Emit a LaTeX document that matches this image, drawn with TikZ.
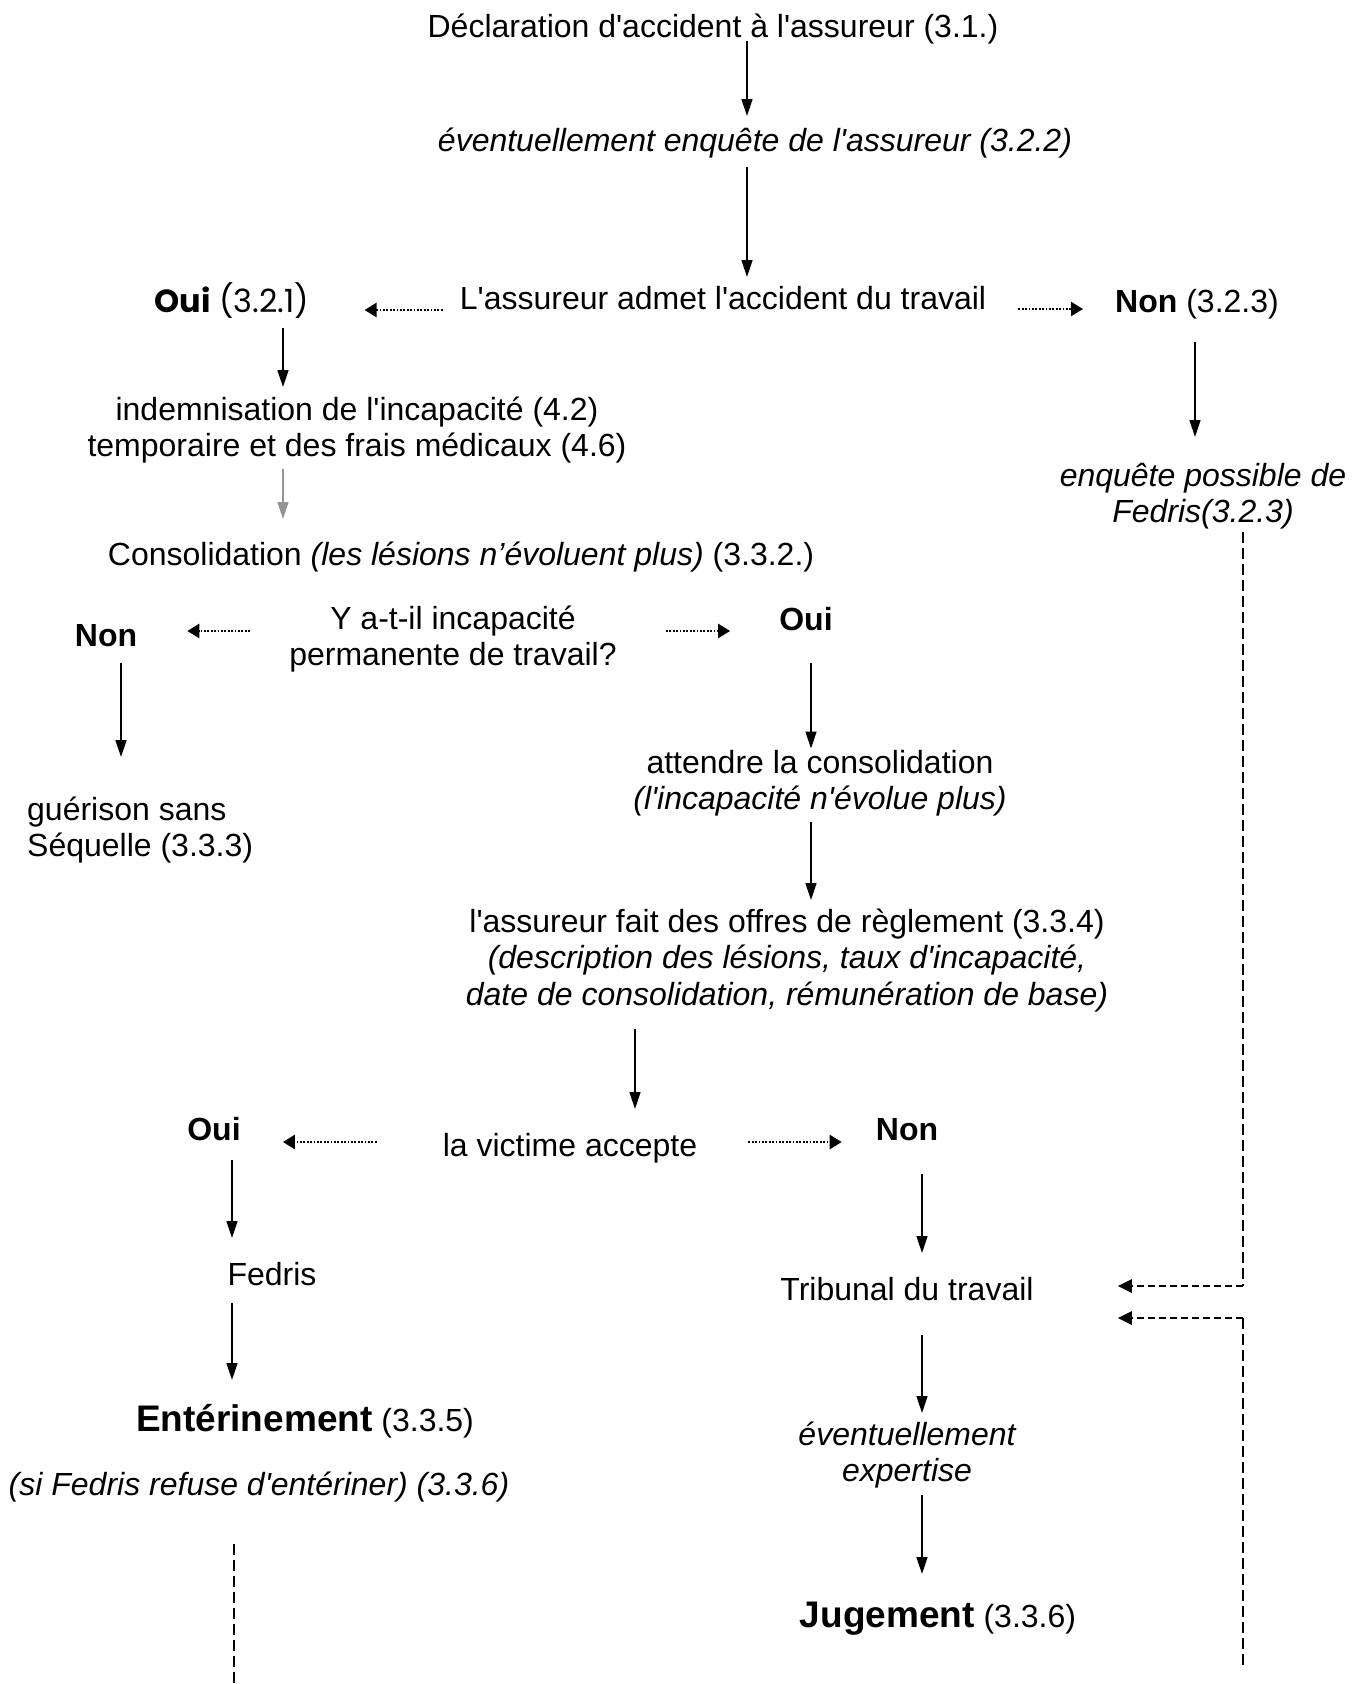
\documentclass[tikz,border=0pt]{standalone}
\usepackage{fontspec}
\setmainfont{Liberation Sans}
\newfontfamily\gothic{Poppins}
\usetikzlibrary{arrows.meta,calc}
\newcommand\ap{\textquotesingle}
\begin{document}
\begin{tikzpicture}[x=1pt,y=-1pt,
  txt/.style={inner sep=0pt, anchor=base, align=center, font=\fontsize{32}{36.5}\selectfont},
  itxt/.style={txt, font=\fontsize{32}{36.5}\selectfont\itshape},
  gtxt/.style={txt, font=\gothic\fontsize{32}{36.5}\selectfont},
  arr/.style={line width=1.6pt, -{Triangle[length=17pt,width=11pt]}},
  garr/.style={arr, draw=black!42, fill=black!42},
  dotarr/.style={line width=2.4pt, dash pattern=on 1.8pt off 1.6pt, -{Triangle[length=12pt,width=14pt]}},
  dasharr/.style={line width=2.6pt, dash pattern=on 7pt off 4pt, -{Triangle[length=14pt,width=13pt]}},
  dashv/.style={line width=1.5pt, dash pattern=on 11pt off 5pt}
]
\useasboundingbox (0,0) rectangle (1359,1684);

% multi-line nodes: base anchor = baseline of last line
\node[txt] (decl) at (713,37) {Déclaration d\ap accident à l\ap assureur (3.1.)};
\node[itxt] (enq) at (755,151) {éventuellement enquête de l\ap assureur (3.2.2)};
\node[txt] (admet) at (723,309) {L\ap assureur admet l\ap accident du travail};
\node[gtxt] (oui1) at (232,312) {\textbf{Oui} (3.2.1)};
\node[txt] (non1) at (1197,312) {\textbf{Non} (3.2.3)};
\node[txt] (indem) at (357,456.5) {indemnisation de l\ap incapacité (4.2)\\temporaire et des frais médicaux (4.6)};
\node[txt] (consol) at (461,565) {Consolidation \textit{(les lésions n’évoluent plus)} (3.3.2.)};
\node[itxt] (enqF) at (1203,522.5) {enquête possible de\\Fedris(3.2.3)};
\node[txt] (ya) at (453,665.5) {Y a-t-il incapacité\\permanente de travail?};
\node[txt] (non2) at (106,646) {\textbf{Non}};
\node[txt] (oui2) at (806,630) {\textbf{Oui}};
\node[txt, align=left, anchor=base west] (guer) at (27,856.5) {guérison sans\\Séquelle (3.3.3)};
\node[txt] (att) at (820,809.5) {attendre la consolidation\\\textit{(l\ap incapacité n\ap évolue plus)}};
\node[txt] (offre) at (787,1005) {l\ap assureur fait des offres de règlement (3.3.4)\\\textit{(description des lésions, taux d\ap incapacité,}\\\textit{date de consolidation, rémunération de base)}};
\node[txt] (vict) at (570,1156) {la victime accepte};
\node[txt] (oui3) at (214,1140) {\textbf{Oui}};
\node[txt] (non3) at (907,1140) {\textbf{Non}};
\node[txt] (fedris) at (272,1285) {Fedris};
\node[txt] (ent) at (305,1431) {{\fontsize{37}{42}\selectfont\bfseries Entérinement} (3.3.5)};
\node[itxt] (si) at (259,1495) {(si Fedris refuse d\ap entériner) (3.3.6)};
\node[txt] (trib) at (907,1300) {Tribunal du travail};
\node[itxt] (evexp) at (907,1481.5) {éventuellement\\expertise};
\node[txt] (jug) at (938,1627) {{\fontsize{37}{42}\selectfont\bfseries Jugement} (3.3.6)};

% solid arrows
\draw[arr] ($(decl.base)+(34,4)$) -- ($(enq.base)+(-8,-35)$);
\draw[arr] ($(enq.base)+(-8,16)$) -- ($(admet.base)+(24,-32)$);
\draw[arr] ($(oui1.base)+(51,16)$) -- ($(indem.base)+(-74,-69.5)$);
\draw[garr] ($(indem.base)+(-74,12.5)$) -- ($(consol.base)+(-178,-46)$);
\draw[arr] ($(non1.base)+(-2,30)$) -- ($(enqF.base)+(-8,-85.5)$);
\draw[arr] ($(non2.base)+(15,17)$) -- ($(guer.base west)+(94,-99.5)$);
\draw[arr] ($(oui2.base)+(5,33)$) -- ($(att.base)+(-9,-61)$);
\draw[arr] ($(att.base)+(-9,12.5)$) -- ($(offre.base)+(24,-105)$);
\draw[arr] ($(offre.base)+(-152,24)$) -- ($(vict.base)+(65,-47)$);
\draw[arr] ($(oui3.base)+(18,20)$) -- ($(fedris.base)+(-40,-47)$);
\draw[arr] ($(fedris.base)+(-40,18)$) -- ($(ent.base)+(-73,-51)$);
\draw[arr] ($(non3.base)+(15,34)$) -- ($(trib.base)+(15,-47)$);
\draw[arr] ($(trib.base)+(15,35)$) -- ($(evexp.base)+(15,-68.5)$);
\draw[arr] ($(evexp.base)+(15,13.5)$) -- ($(jug.base)+(-16,-53)$);

% dotted arrows
\draw[dotarr] ($(admet.base west)+(-17,1)$) -- ($(oui1.base east)+(55,-2)$);
\draw[dotarr] ($(admet.base east)+(32,0)$) -- ($(non1.base west)+(-32,-3)$);
\draw[dotarr] ($(ya.base)+(-203,-34.5)$) -- ($(non2.base east)+(50,-15)$);
\draw[dotarr] ($(ya.base)+(213,-34.5)$) -- ($(oui2.base west)+(-49,1)$);
\draw[dotarr] ($(vict.base west)+(-66,-14)$) -- ($(oui3.base east)+(42,2)$);
\draw[dotarr] ($(vict.base east)+(51,-14)$) -- ($(non3.base west)+(-34,2)$);

% dashed connectors
\coordinate (r1) at ($(enqF.base)+(40,9.5)$);
\coordinate (t1) at ($(trib.base east)+(84,-14)$);
\draw[dashv] (r1) -- (r1 |- t1);
\draw[dasharr] (r1 |- t1) -- (t1);
\coordinate (r2) at (r1 |- 0,1665);
\coordinate (t2) at ($(trib.base east)+(84,18)$);
\draw[dashv] (r2) -- (r2 |- t2);
\draw[dasharr] (r2 |- t2) -- (t2);
\draw[dashv] ($(si.base)+(-25,49)$) -- ++(0,140);
\end{tikzpicture}
\end{document}
